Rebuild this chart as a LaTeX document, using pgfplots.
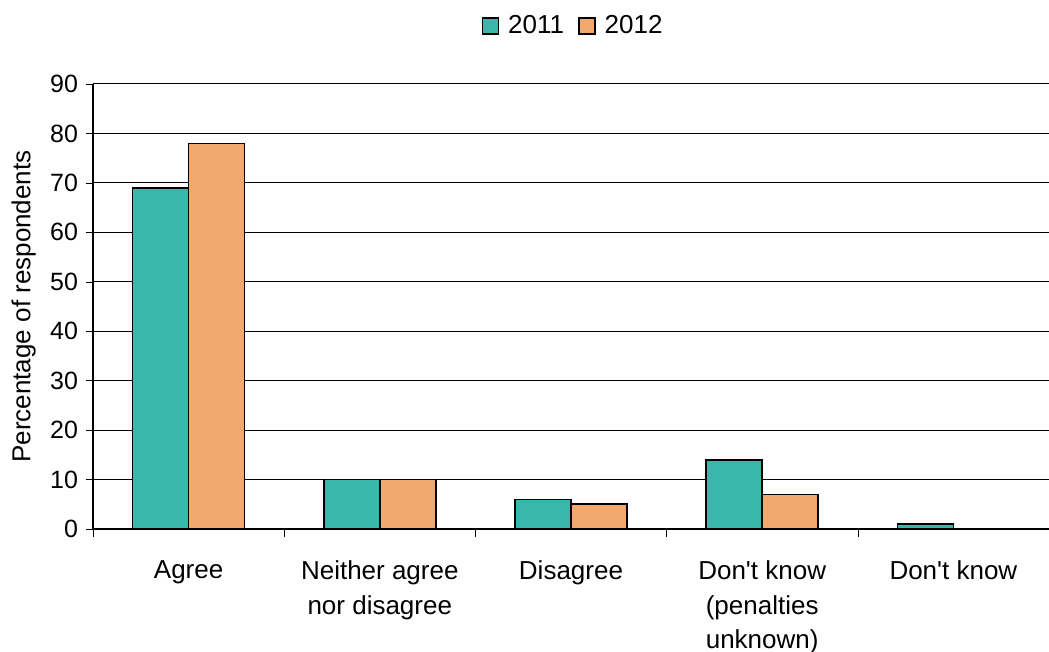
\documentclass[border=0pt]{standalone}
\usepackage{fontspec}
\setmainfont{Liberation Sans}[Ligatures=TeXOff]
\usepackage{pgfplots}
\pgfplotsset{compat=1.18}

\definecolor{teal2011}{RGB}{57,183,170}
\definecolor{orange2012}{RGB}{241,169,112}

\begin{document}
\begin{tikzpicture}
\begin{axis}[
  name=ax,
  scale only axis,
  width=478pt, height=222.5pt,
  ybar=0pt, bar width=28pt,
  xmin=-0.5, xmax=4.5,
  ymin=0, ymax=90,
  ytick={0,10,...,90},
  xtick={0,1,2,3,4},
  xticklabels={Agree, {Neither agree\\nor disagree}, Disagree, {Don't know\\(penalties\\unknown)}, Don't know},
  major x tick style={draw=none},
  minor xtick={-0.5,0.5,...,4.5},
  minor x tick style={black},
  minor tick length=4pt,
  major tick length=3.5pt,
  tick align=outside,
  xtick pos=bottom, ytick pos=left,
  axis x line*=bottom, axis y line*=left,
  axis line style={-, black, line width=0.6pt},
  ymajorgrids,
  grid style={black, line width=0.5pt},
  y tick style={black},
  /pgf/number format/assume math mode=true,
  tick label style={font=\fontsize{12.5}{15}\selectfont},
  xticklabel style={align=center, font=\fontsize{13}{17.2}\selectfont, yshift=-9pt},
  yticklabel style={xshift=-0.5pt},
  ylabel={Percentage of respondents},
  ylabel style={font=\fontsize{13}{15}\selectfont, at={(axis description cs:-0.0725,0.5)}, anchor=center},
  legend style={at={(0.5,1.13)}, xshift=1.5pt, anchor=center, draw=none, legend columns=2,
    font=\fontsize{13}{15}\selectfont,
    /tikz/every odd column/.append style={column sep=2.5pt},
    /tikz/every even column/.append style={column sep=5pt}},
  legend image code/.code={\draw[#1, draw=black, line width=0.8pt] (0pt,-4pt) rectangle (8pt,4pt);},
]
\addplot[fill=teal2011, draw=black, line width=0.8pt] coordinates {(0,69) (1,10) (2,6) (3,14) (4,1)};
\addplot[fill=orange2012, draw=black, line width=0.8pt] coordinates {(0,78) (1,10) (2,5) (3,7) (4,0)};
\legend{2011, 2012}
\end{axis}
\pgfresetboundingbox
\path ([xshift=-46.5pt,yshift=-61.5pt]ax.south west) rectangle ([yshift=42pt]ax.north east);
\end{tikzpicture}
\end{document}
